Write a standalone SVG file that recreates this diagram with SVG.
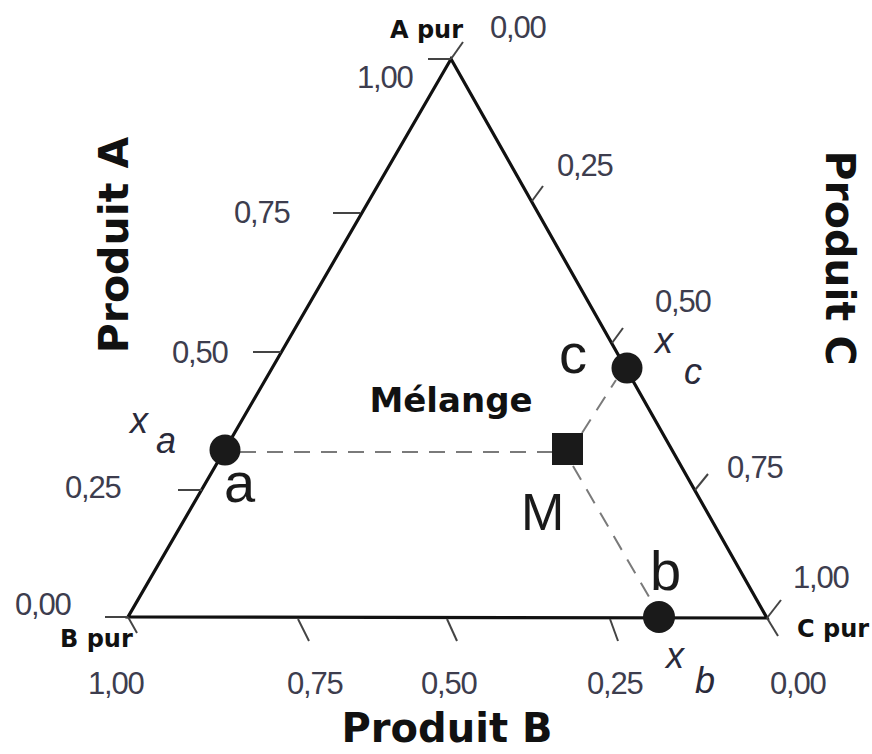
<svg xmlns="http://www.w3.org/2000/svg" width="872" height="754" viewBox="0 0 872 754">
<style>
.num{font-family:"Liberation Sans",Arial,sans-serif;font-size:31px;letter-spacing:-1.2px;fill:#3d3d4e}
.pur{font-family:"DejaVu Sans",Verdana,sans-serif;font-weight:bold;font-size:24px;fill:#111}
.title{font-family:"DejaVu Sans",Verdana,sans-serif;font-weight:bold;font-size:41px;fill:#111}
.big{font-family:"Liberation Sans",Arial,sans-serif;font-size:56px;fill:#1a1a1a}
.var{font-family:"Liberation Sans",Arial,sans-serif;font-style:italic;font-size:36px;fill:#2a2a3a}
.tick{stroke:#444;stroke-width:2;fill:none}
.edge{stroke:#111;stroke-width:3.2;fill:none;stroke-linejoin:miter}
.dash{stroke:#7a7a7a;stroke-width:2;stroke-dasharray:16 11;fill:none}
.pt{fill:#1a1a1a}
</style>
<rect width="872" height="754" fill="#fff"/>
<g id="triangle">
<polygon class="edge" points="451,59 128,617 767,618"/>
<g id="ticks">
<line class="tick" x1="428" y1="59" x2="451" y2="59"/>
<line class="tick" x1="451" y1="59" x2="463" y2="42"/>
<line class="tick" x1="333" y1="213" x2="360" y2="213"/>
<line class="tick" x1="253" y1="352" x2="281" y2="352"/>
<line class="tick" x1="178" y1="490" x2="202" y2="490"/>
<line class="tick" x1="105" y1="617" x2="128" y2="617"/>
<line class="tick" x1="128" y1="617" x2="137" y2="633"/>
<line class="tick" x1="298" y1="619" x2="309" y2="641"/>
<line class="tick" x1="447" y1="619" x2="457" y2="641"/>
<line class="tick" x1="610" y1="619" x2="618" y2="641"/>
<line class="tick" x1="767" y1="618" x2="778" y2="636"/>
<line class="tick" x1="767" y1="618" x2="781" y2="600"/>
<line class="tick" x1="532" y1="201" x2="543" y2="186"/>
<line class="tick" x1="612" y1="343" x2="623" y2="328"/>
<line class="tick" x1="695" y1="490" x2="708" y2="474"/>
</g>
</g>
<g id="scale-labels">
<text class="num" x="490" y="38">0,00</text>
<text class="num" x="357" y="88">1,00</text>
<text class="num" x="234" y="223">0,75</text>
<text class="num" x="172" y="363">0,50</text>
<text class="num" x="65" y="498">0,25</text>
<text class="num" x="15" y="615">0,00</text>
<text class="num" x="88" y="694">1,00</text>
<text class="num" x="287" y="694">0,75</text>
<text class="num" x="421" y="694">0,50</text>
<text class="num" x="587" y="694">0,25</text>
<text class="num" x="770" y="694">0,00</text>
<text class="num" x="557" y="176">0,25</text>
<text class="num" x="655" y="312">0,50</text>
<text class="num" x="727" y="478">0,75</text>
<text class="num" x="793" y="588">1,00</text>
</g>
<g id="vertex-labels">
<text class="pur" x="390" y="38">A pur</text>
<text class="pur" x="60" y="647">B pur</text>
<text class="pur" x="797" y="637">C pur</text>
</g>
<g id="axis-titles">
<text class="title" text-anchor="middle" transform="translate(128,245) rotate(-90)">Produit A</text>
<text class="title" text-anchor="middle" transform="translate(826,258) rotate(90)">Produit C</text>
<text class="title" text-anchor="middle" x="447" y="742" style="font-size:40px">Produit B</text>
</g>
<g id="connectors">
<line class="dash" x1="240" y1="452" x2="552" y2="452"/>
<line class="dash" x1="582" y1="433" x2="616" y2="380"/>
<line class="dash" x1="573" y1="466" x2="652" y2="602"/>
</g>
<g id="node-a">
<circle class="pt" cx="225" cy="450" r="15.5"/>
<text class="big" x="224" y="502">a</text>
<text class="var" x="130" y="433">x</text>
<text class="var" x="156" y="453">a</text>
</g>
<g id="node-c">
<circle class="pt" cx="627" cy="368" r="15.5"/>
<text class="big" x="559" y="373">c</text>
<text class="var" x="655" y="353">x</text>
<text class="var" x="684" y="384">c</text>
</g>
<g id="node-b">
<circle class="pt" cx="659" cy="617" r="16"/>
<text class="big" x="650" y="590">b</text>
<text class="var" x="666" y="668">x</text>
<text class="var" x="695" y="693">b</text>
</g>
<g id="node-M">
<rect class="pt" x="552" y="433" width="31" height="32"/>
<text class="big" x="521" y="530" style="font-size:52px">M</text>
</g>
<g id="melange">
<text class="title" text-anchor="middle" x="451" y="412" style="font-size:34px">Mélange</text>
</g>
</svg>
